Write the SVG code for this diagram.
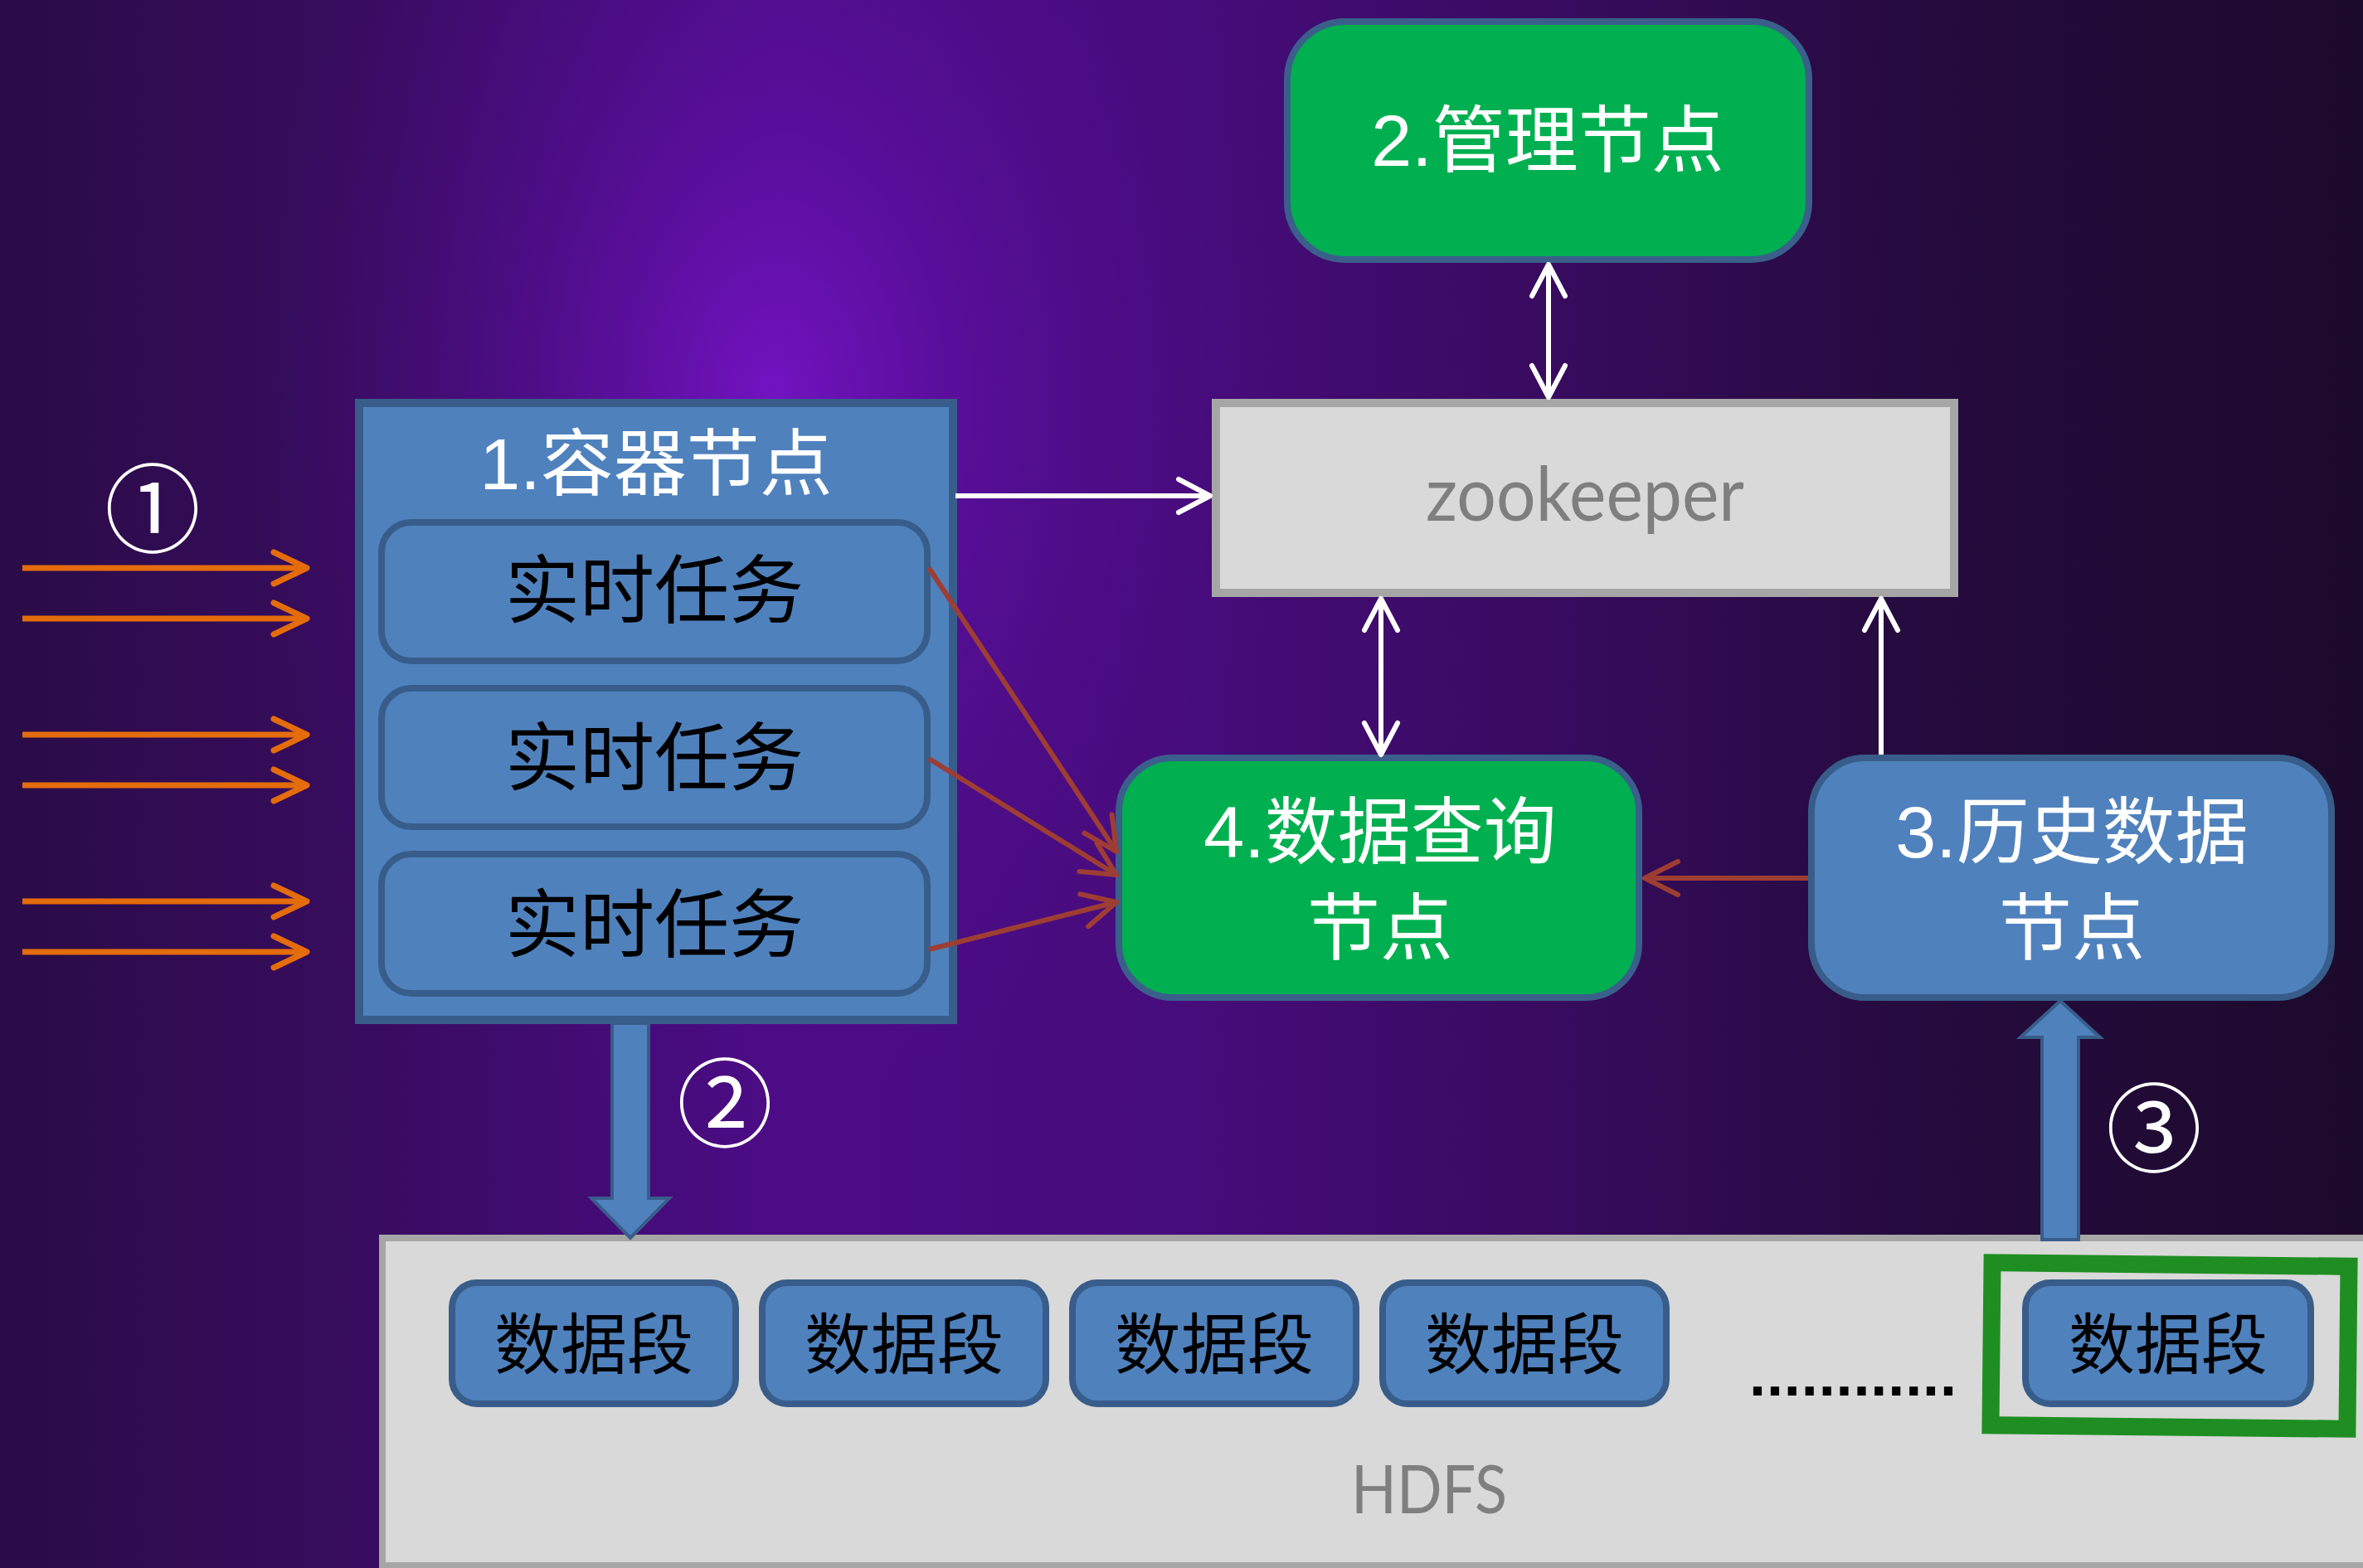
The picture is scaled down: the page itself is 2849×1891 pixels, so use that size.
<svg xmlns="http://www.w3.org/2000/svg" width="2849" height="1891" viewBox="0 0 2849 1891">
<defs>
<style>
.blue{fill:#4F81BD;stroke:#385D8A}
.green{fill:#00B050;stroke:#3A5F8B}
.gray{fill:#D9D9D9;stroke:#A6A6A6}
.cjk{font-family:"Liberation Sans","Noto Sans CJK SC",sans-serif;text-anchor:middle}
.wt{fill:#FFFFFF;font-size:88px}
.task{fill:#000000;font-size:90px}
.seg{fill:#000000;font-size:80px}
.lat{font-family:Lato,"Liberation Sans",sans-serif;fill:#7F7F7F;text-anchor:middle}
.num{font-family:"Noto Sans CJK SC",sans-serif;fill:#FFFFFF;font-size:116px;text-anchor:middle}
.wl{stroke:#FFFFFF;stroke-width:6;fill:none}
.ol{stroke:#E46C0A;stroke-width:7;fill:none}
.rl{stroke:#9E3D33;stroke-width:6;fill:none}
.blk{fill:#4F81BD;stroke:#385D8A;stroke-width:4;stroke-linejoin:miter}
</style>
<linearGradient id="bg" x1="0" y1="0" x2="1" y2="0">
<stop offset="0" stop-color="#2a0c47"/>
<stop offset="0.15" stop-color="#370c5e"/>
<stop offset="0.33" stop-color="#4c0c86"/>
<stop offset="0.5" stop-color="#470c7c"/>
<stop offset="0.65" stop-color="#380b60"/>
<stop offset="0.8" stop-color="#260b40"/>
<stop offset="1" stop-color="#1c0a2c"/>
</linearGradient>
<radialGradient id="glow" gradientUnits="userSpaceOnUse" cx="930" cy="480" r="700" gradientTransform="translate(930 480) scale(0.9 1.3) translate(-930 -480)">
<stop offset="0" stop-color="#7a14cc" stop-opacity="0.85"/>
<stop offset="0.45" stop-color="#6010a8" stop-opacity="0.45"/>
<stop offset="1" stop-color="#4a0c80" stop-opacity="0"/>
</radialGradient>
<marker id="aw" markerUnits="userSpaceOnUse" viewBox="-45 -25 50 50" refX="0" refY="0" markerWidth="50" markerHeight="50" orient="auto-start-reverse" overflow="visible">
<path d="M -38 -20 L 0 0 L -38 20" fill="none" stroke="#FFFFFF" stroke-width="6" stroke-linecap="round" stroke-linejoin="round"/>
</marker>
<marker id="ao" markerUnits="userSpaceOnUse" viewBox="-45 -25 50 50" refX="0" refY="0" markerWidth="50" markerHeight="50" orient="auto" overflow="visible">
<path d="M -40 -19 L 0 0 L -40 19" fill="none" stroke="#E46C0A" stroke-width="7" stroke-linecap="round" stroke-linejoin="round"/>
</marker>
<marker id="ar" markerUnits="userSpaceOnUse" viewBox="-45 -25 50 50" refX="0" refY="0" markerWidth="50" markerHeight="50" orient="auto" overflow="visible">
<path d="M -40 -20 L 0 0 L -40 20" fill="none" stroke="#9E3D33" stroke-width="6" stroke-linecap="round" stroke-linejoin="round"/>
</marker>
</defs>

<rect x="0" y="0" width="2849" height="1891" fill="url(#bg)"/>
<rect x="0" y="0" width="2849" height="1891" fill="url(#glow)"/>

<g id="hdfs">
<rect class="gray" x="461" y="1493" width="2400" height="395" stroke-width="8"/>
<text class="lat" x="1723" y="1825" font-size="82" textLength="188" lengthAdjust="spacingAndGlyphs">HDFS</text>
<text x="2109" y="1683" font-family="Liberation Sans, sans-serif" font-weight="bold" font-size="72" fill="#000000" textLength="250" lengthAdjust="spacing">............</text>
</g>

<g id="seg1"><rect class="blue" x="545" y="1547" width="342" height="146" rx="30" stroke-width="8"/><text class="cjk seg" x="716" y="1650">数据段</text></g>
<g id="seg2"><rect class="blue" x="919" y="1547" width="342" height="146" rx="30" stroke-width="8"/><text class="cjk seg" x="1090" y="1650">数据段</text></g>
<g id="seg3"><rect class="blue" x="1293" y="1547" width="342" height="146" rx="30" stroke-width="8"/><text class="cjk seg" x="1464" y="1650">数据段</text></g>
<g id="seg4"><rect class="blue" x="1667" y="1547" width="342" height="146" rx="30" stroke-width="8"/><text class="cjk seg" x="1838" y="1650">数据段</text></g>
<g id="seg5"><rect class="blue" x="2442" y="1547" width="344" height="146" rx="30" stroke-width="8"/><text class="cjk seg" x="2614" y="1650">数据段</text></g>

<g id="highlight">
<rect x="2401" y="1525" width="430" height="196" fill="none" stroke="#1E8E22" stroke-width="21" transform="rotate(0.6 2616 1623)"/>
</g>

<g id="container">
<rect class="blue" x="433" y="486" width="716" height="744" stroke-width="10"/>
<text class="cjk wt" x="791" y="590">1.容器节点</text>
</g>
<g id="task1"><rect class="blue" x="460" y="630" width="658" height="167" rx="36" stroke-width="8"/><text class="cjk task" x="789" y="744">实时任务</text></g>
<g id="task2"><rect class="blue" x="460" y="830" width="658" height="167" rx="36" stroke-width="8"/><text class="cjk task" x="789" y="946">实时任务</text></g>
<g id="task3"><rect class="blue" x="460" y="1030" width="658" height="168" rx="36" stroke-width="8"/><text class="cjk task" x="789" y="1147">实时任务</text></g>

<g id="node2">
<rect class="green" x="1552" y="26" width="629" height="287" rx="70" stroke-width="8"/>
<text class="cjk wt" x="1866" y="200">2.管理节点</text>
</g>

<g id="zookeeper">
<rect class="gray" x="1466" y="486" width="890" height="229" stroke-width="10"/>
<text class="lat" x="1911" y="628" font-size="92" textLength="384" lengthAdjust="spacingAndGlyphs">zookeeper</text>
</g>

<g id="query">
<rect class="green" x="1349" y="914" width="627" height="289" rx="65" stroke-width="8"/>
<text class="cjk wt" x="1664" y="1034">4.数据查询</text>
<text class="cjk wt" x="1664" y="1150">节点</text>
</g>

<g id="history">
<rect class="blue" x="2184" y="914" width="627" height="289" rx="65" stroke-width="8"/>
<text class="cjk wt" x="2498" y="1034">3.历史数据</text>
<text class="cjk wt" x="2498" y="1150">节点</text>
</g>

<g id="connectors">
<line class="ol" x1="27" y1="685" x2="370" y2="685" marker-end="url(#ao)"/>
<line class="ol" x1="27" y1="746" x2="370" y2="746" marker-end="url(#ao)"/>
<line class="ol" x1="27" y1="886" x2="370" y2="886" marker-end="url(#ao)"/>
<line class="ol" x1="27" y1="947" x2="370" y2="947" marker-end="url(#ao)"/>
<line class="ol" x1="27" y1="1087" x2="370" y2="1087" marker-end="url(#ao)"/>
<line class="ol" x1="27" y1="1148" x2="370" y2="1148" marker-end="url(#ao)"/>

<line class="wl" x1="1152" y1="598" x2="1459" y2="598" marker-end="url(#aw)"/>
<line class="wl" x1="1867" y1="319" x2="1867" y2="479" marker-start="url(#aw)" marker-end="url(#aw)"/>
<line class="wl" x1="1665" y1="722" x2="1665" y2="910" marker-start="url(#aw)" marker-end="url(#aw)"/>
<line class="wl" x1="2268" y1="910" x2="2268" y2="722" marker-end="url(#aw)"/>

<line class="rl" x1="1120" y1="685" x2="1346" y2="1027" marker-end="url(#ar)"/>
<line class="rl" x1="1120" y1="915" x2="1346" y2="1055" marker-end="url(#ar)"/>
<line class="rl" x1="1120" y1="1145" x2="1346" y2="1088" marker-end="url(#ar)"/>
<line class="rl" x1="2180" y1="1059" x2="1983" y2="1059" marker-end="url(#ar)"/>

<polygon class="blk" points="738,1234 782,1234 782,1445 807,1445 760,1493 713,1445 738,1445"/>
<polygon class="blk" points="2462,1495 2506,1495 2506,1251 2532,1251 2484,1207 2436,1251 2462,1251"/>
</g>

<g id="label1"><text class="num" x="184" y="657">①</text></g>
<g id="label2"><text class="num" x="874" y="1374">②</text></g>
<g id="label3"><text class="num" x="2597" y="1404">③</text></g>
</svg>
